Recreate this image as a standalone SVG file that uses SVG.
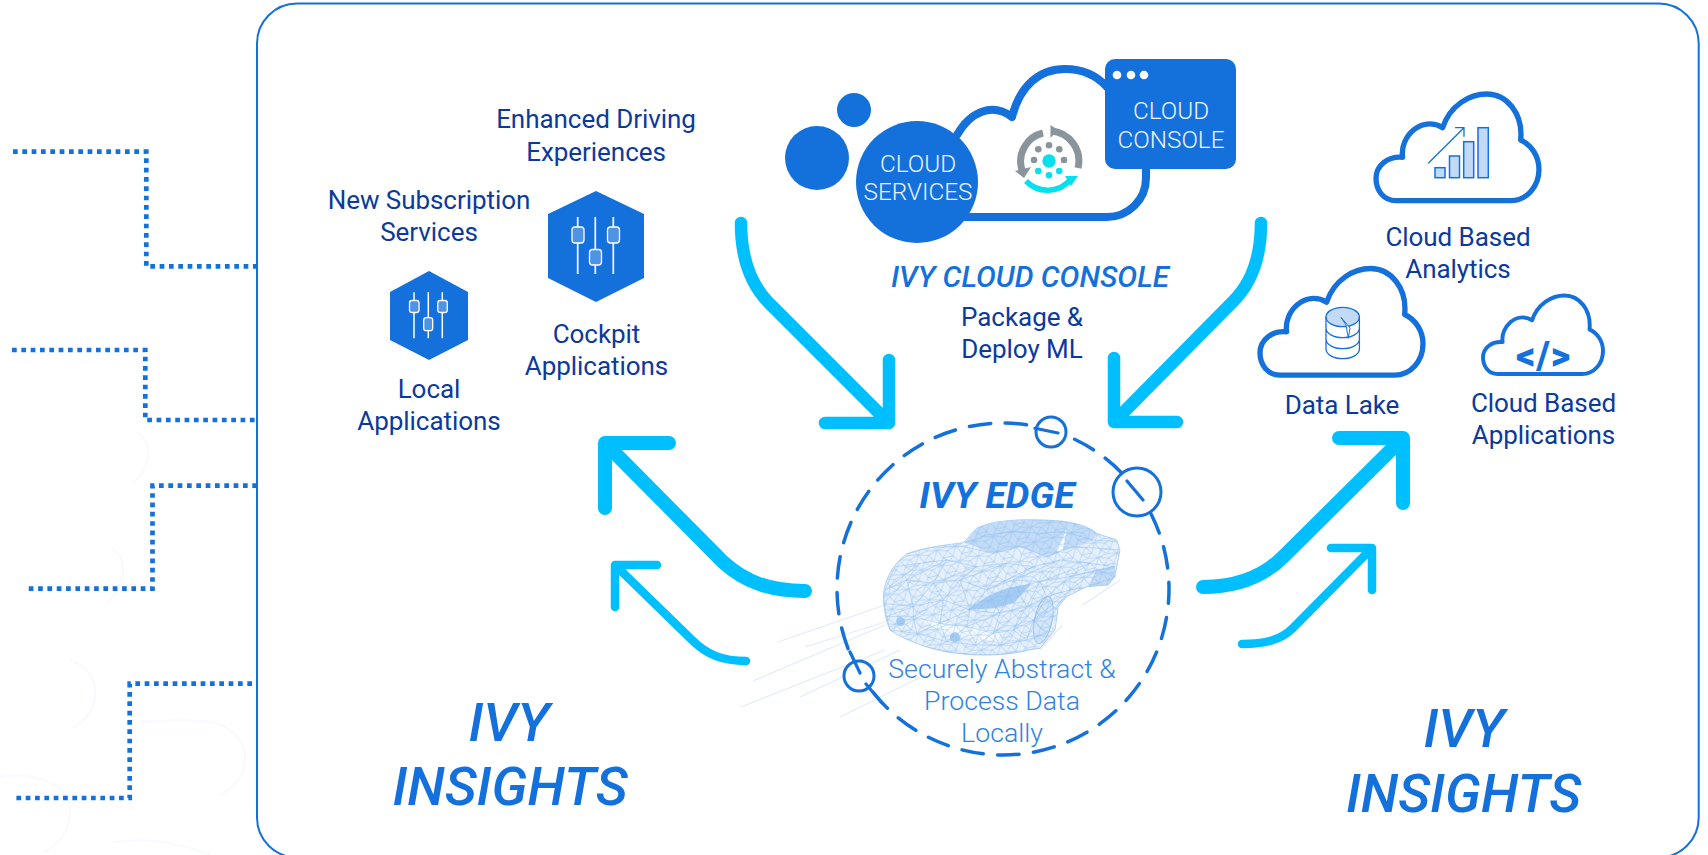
<svg xmlns="http://www.w3.org/2000/svg" width="1708" height="855" viewBox="0 0 1708 855">
<style>
text{font-family:Roboto,"Liberation Sans",sans-serif;text-anchor:middle}
.lab{font-size:26px;fill:#0b3a9c;letter-spacing:-.05px}
.ins{font-size:54.3px;font-weight:500;font-style:italic;fill:#1471db}
.svc{font-size:24.3px;font-weight:300;fill:#eaf3fd}
.dot{fill:none;stroke:#1471db;stroke-width:4.7;stroke-dasharray:4.7 4.63}
.big{fill:none;stroke:#00bfff;stroke-width:14;stroke-linecap:round;stroke-linejoin:round}
.mid{fill:none;stroke:#00bfff;stroke-width:12.5;stroke-linecap:round;stroke-linejoin:round}
.sml{fill:none;stroke:#00bfff;stroke-width:8.5;stroke-linecap:round;stroke-linejoin:round}
.cld{fill:none;stroke:#1471db;stroke-linejoin:round}
.fnt{fill:none;stroke:#f7fafe;stroke-width:2}
.spd{stroke:#e3eafa;stroke-width:1.2;fill:none}
.fad{fill:#4f93e4;stroke:#fff;stroke-width:1.3}
.bar{fill:#c3daf6;stroke:#1471db;stroke-width:1.5}
.thin{fill:none;stroke:#1471db;stroke-width:1.3}
.ring{fill:#fff;stroke:#1471db;stroke-width:3}
.tick{fill:none;stroke:#1471db;stroke-width:3.2;stroke-linecap:round}
.sec{font-size:26.7px;font-weight:300;fill:#2f83e0}
</style>
<defs>
<path id="cloud" d="M60,320C22,320 0,288 0,253C0,213 37,186 80,190C70,128 137,63 200,101C222,33 282,0 332,0C392,0 442,58 434,138C467,153 489,188 489,226C489,278 452,320 404,320Z"/>
<path id="carBody" d="M310,585C315,540 335,495 380,462C420,445 490,435 550,428L590,385C640,360 730,355 830,362C880,365 930,380 950,400L1010,420L1020,450L1005,530L985,555L920,560L860,590L835,620L825,690L780,745L745,750C700,765 600,770 530,760C470,755 380,725 330,690C318,665 310,620 310,585Z"/>
<clipPath id="carClip"><use href="#carBody"/></clipPath>
<pattern id="fineMesh" width="58" height="46" patternUnits="userSpaceOnUse" patternTransform="rotate(-14)">
<path fill="none" stroke="#8fbfef" stroke-width="1.5" d="M0,0L30,8L58,0M0,0L12,26L30,8L42,28L58,0M12,26L42,28L58,46M12,26L0,46L28,40L58,46M42,28L28,40L12,26"/>
</pattern>
</defs>
<rect width="1708" height="855" fill="#fff"/>
<g id="background-arcs">
<path class="fnt" d="M70,660Q95,670 95,692Q95,715 73,728"/>
<path class="fnt" d="M140,722Q190,718 217,723Q245,735 245,758Q245,782 220,795"/>
<path class="fnt" d="M0,777Q20,774 33,777Q70,785 70,812Q70,838 43,853"/>
<path class="fnt" d="M113,842Q145,838 167,843Q195,848 210,855"/>
<path class="fnt" d="M138,432Q148,440 148,453Q148,470 133,483"/>
<path class="fnt" d="M112,548Q123,555 123,570Q123,590 107,603"/>
</g>
<rect id="frame" x="257" y="3.5" width="1441.7" height="854" rx="40" ry="40" fill="none" stroke="#1471db" stroke-width="2"/>
<g id="connectors">
<path class="dot" d="M13,151.7H146.3V266.3H257"/>
<path class="dot" d="M12,350H145.3V420H257"/>
<path class="dot" d="M257,485.7H152.5V588.7H27"/>
<path class="dot" d="M252,683.7H129.7V798H15"/>
<path class="mid" d="M741,223C741,255 750,283 768,302L889,423M825,423H889V360"/>
<path class="mid" d="M1261,223C1261,255 1252,283 1232.5,302L1114,422H1177M1114,422V358"/>
<path class="big" d="M805,591C770,591 745,582 723,562L605,443M669,443H605V508"/>
<path class="sml" d="M746,661C723,661 707,655 692,640L615,565M657,565H615V607"/>
<path class="big" d="M1203,587C1238,587 1263,577 1283,557L1403,438M1339,438H1403V503"/>
<path class="sml" d="M1242,644C1265,644 1281,640 1293,628L1372,548M1331,548H1372V590"/>
</g>
<g id="ivy-cloud-console">
<path fill="none" stroke="#1471db" stroke-width="8" stroke-linecap="round" stroke-linejoin="round" d="M957,135C970,112 992,102 1012,117C1020,85 1040,69 1065,69C1082,69 1097,76 1107,87M1146,165V178C1146,200 1128,217 1107,217H960"/>
<circle cx="817" cy="158" r="32" fill="#1471db"/>
<circle cx="854" cy="110" r="17" fill="#1471db"/>
<circle cx="917" cy="182" r="61" fill="#1471db"/>
<text class="svc" x="918" y="172">CLOUD</text>
<text class="svc" x="918" y="200">SERVICES</text>
<rect x="1105" y="59" width="131" height="110" rx="10" fill="#1471db"/>
<circle cx="1117" cy="75" r="4.3" fill="#fff"/><circle cx="1131" cy="75" r="4.3" fill="#fff"/><circle cx="1144" cy="75" r="4.3" fill="#fff"/>
<text class="svc" x="1171" y="119">CLOUD</text>
<text class="svc" x="1171" y="148">CONSOLE</text>
<path fill="none" stroke="#8a949c" stroke-width="7" d="M1043,133A29,29 0 0 0 1022,170M1051,131A30,30 0 0 1 1078,168"/>
<path fill="#8a949c" d="M1015,171L1031,167L1024,178ZM1050.5,125V138L1058,130Z"/>
<path fill="none" stroke="#06dfee" stroke-width="5.5" d="M1026,181A30,30 0 0 0 1071,179"/>
<path fill="#06dfee" d="M1078,176L1065,176L1071,186Z"/>
<circle cx="1049" cy="161" r="6.7" fill="#06dfee"/>
<g fill="#8a949c"><circle cx="1038.3" cy="149.3" r="3.3"/><circle cx="1049" cy="145.3" r="3.3"/><circle cx="1059.3" cy="149.3" r="3.3"/><circle cx="1034" cy="160" r="3.3"/><circle cx="1064" cy="160" r="3.3"/></g>
<g fill="#06dfee"><circle cx="1038.3" cy="171" r="3.3"/><circle cx="1049" cy="175.3" r="3.3"/><circle cx="1059.3" cy="171" r="3.3"/></g>
<text x="1030" y="287" font-size="29.7" font-weight="500" font-style="italic" fill="#1471db">IVY CLOUD CONSOLE</text>
<text class="lab" x="1022" y="325.5">Package &amp;</text>
<text class="lab" x="1022" y="357.5">Deploy ML</text>
</g>
<g id="enhanced-driving">
<text class="lab" x="596" y="128">Enhanced Driving</text>
<text class="lab" x="596" y="161">Experiences</text>
<path fill="#1471db" d="M596,191L644,214V278L596,302L548,278V214Z"/>
<path fill="none" stroke="#fff" stroke-width="1.7" d="M577.7,217V274M595.3,217V274M613.3,217V274"/>
<rect class="fad" x="572" y="227" width="12" height="16" rx="3"/><rect class="fad" x="589.5" y="249.5" width="12" height="15.5" rx="3"/><rect class="fad" x="607.5" y="227" width="12" height="16" rx="3"/>
<text class="lab" x="596.5" y="343">Cockpit</text>
<text class="lab" x="596.5" y="375">Applications</text>
</g>
<g id="new-subscription">
<text class="lab" x="429" y="208.5">New Subscription</text>
<text class="lab" x="429" y="240.5">Services</text>
<path fill="#1471db" d="M429,271L468,292V340L429,360L390,340V292Z"/>
<path fill="none" stroke="#fff" stroke-width="1.5" d="M414,292.3V338.3M428.3,292.3V338.3M442.3,292.3V338.3"/>
<rect class="fad" x="409.5" y="300.5" width="9.5" height="12" rx="2.5"/><rect class="fad" x="423.7" y="317.7" width="9" height="13" rx="2.5"/><rect class="fad" x="437.8" y="300.5" width="9.5" height="12" rx="2.5"/>
<text class="lab" x="429" y="398">Local</text>
<text class="lab" x="429" y="430">Applications</text>
</g>
<g id="cloud-analytics">
<use href="#cloud" class="cld" stroke-width="16" transform="translate(1376,94) scale(.3333)"/>
<rect class="bar" x="1435" y="167.7" width="10" height="10"/><rect class="bar" x="1449.5" y="156" width="10" height="21.7"/><rect class="bar" x="1463.7" y="141.7" width="10" height="36"/><rect class="bar" x="1478" y="127.7" width="10.3" height="50"/>
<path class="thin" d="M1428.3,163.3L1464,127.7M1455,127.7H1464V136.7"/>
<text class="lab" x="1458" y="246">Cloud Based</text>
<text class="lab" x="1458" y="278">Analytics</text>
</g>
<g id="data-lake">
<use href="#cloud" class="cld" stroke-width="16" transform="translate(1260,268.5) scale(.3333)"/>
<ellipse cx="1342.7" cy="317" rx="16.7" ry="9.7" fill="#c3daf6" stroke="#1471db" stroke-width="1.3"/>
<path class="thin" d="M1326,317V349A16.7,9.7 0 0 0 1359.4,349V317M1326,328A16.7,9.7 0 0 0 1359.4,328M1326,339A16.7,9.7 0 0 0 1359.4,339"/>
<path fill="#fff" stroke="#1471db" stroke-width="1" d="M1341,317.3L1350,328L1348.3,338.3L1346,325Z"/>
<text class="lab" x="1342" y="414">Data Lake</text>
</g>
<g id="cloud-applications">
<use href="#cloud" class="cld" stroke-width="16" transform="translate(1483,295.5) scale(.2454)"/>
<text x="1543.7" y="369" font-size="38" font-weight="900" fill="#1471db" letter-spacing="1">&lt;/&gt;</text>
<text class="lab" x="1543.5" y="411.5">Cloud Based</text>
<text class="lab" x="1543.5" y="443.5">Applications</text>
</g>
<g id="ivy-edge">
<path class="spd" d="M778,642L885,605M805,647L885,622M753,681L885,625M741,707L885,650M800,697L900,650M840,717L925,675M1083,605L1120,580M1040,650L1062,625"/>
<g transform="translate(780,400) scale(.3333)">
<use href="#carBody" fill="#e6f0fc" stroke="#a8cdf2" stroke-width="2.5" stroke-linejoin="round"/>
<path fill="#c4dcf7" d="M555,428L590,385L640,365L730,358L830,362L910,375L950,400L940,420L880,440L800,470L720,440L640,460Z"/>
<path fill="#c4dcf7" d="M950,510L1005,500L1005,530L985,555L930,560Z"/>
<path fill="#a5ccf3" d="M560,630L620,590L680,565L755,550L700,610L640,625Z"/>
<path fill="#fff" d="M830,450L860,390L845,465Z"/>
<path fill="#f7fbff" d="M400,650L560,680L660,700L650,725L500,700Z"/>
<ellipse cx="790" cy="660" rx="26" ry="72" transform="rotate(12 790 660)" fill="#d4e6f9" stroke="#9cc6f0" stroke-width="3"/>
<circle cx="362" cy="665" r="13" fill="#a5ccf3"/><circle cx="525" cy="712" r="15" fill="#a5ccf3"/>
<rect x="280" y="340" width="760" height="440" fill="url(#fineMesh)" clip-path="url(#carClip)"/>
<path fill="none" stroke="#8dbcee" stroke-width="1.8" stroke-opacity=".75" stroke-linejoin="round" clip-path="url(#carClip)" d="M590,385L640,365L730,358L830,362L910,375L950,400M555,428L620,405L700,395L780,400L850,395L940,420L1010,425M380,462L450,442L550,440L640,460L720,440L800,470L880,440L960,445L1018,450M345,500L420,490L500,480L590,500L680,490L760,500L840,480L930,490L1005,500M315,570L380,540L460,550L540,540L620,570L700,540L780,545L870,530L950,510L1005,530M312,610L400,620L490,600L570,630L660,640L740,620L800,590L870,570L930,560L985,555M320,650L400,650L480,670L560,680L640,700L700,690L760,660L830,620M330,690L410,700L500,725L590,735L660,735L740,720L800,700M410,735L530,760L640,765L745,750L780,745M345,500L315,570L420,490L380,540L500,480L460,550L590,500L540,540L680,490L620,570L760,500L700,540L840,480L780,545L930,490L870,530L1005,500L950,510M315,570L312,610L380,540L400,620L460,550L490,600L540,540L570,630L620,570L660,640L700,540L740,620L780,545L800,590L870,530L870,570L950,510L930,560L1005,530L985,555M312,610L320,650L400,620L400,650L490,600L480,670L570,630L560,680L660,640L640,700L740,620L700,690L800,590L760,660L870,570L830,620M320,650L330,690L400,650L410,700L480,670L500,725L560,680L590,735L640,700L660,735L700,690L740,720L760,660L800,700"/>
</g>
<circle cx="1003" cy="589" r="166" fill="none" stroke="#1471db" stroke-width="3.5" stroke-dasharray="21.5 14.47" stroke-dashoffset="7.25" stroke-linecap="round"/>
<circle class="ring" cx="1051" cy="432" r="15"/>
<circle class="ring" cx="1137" cy="492" r="24"/>
<circle class="ring" cx="859" cy="676" r="15"/>
<path class="tick" d="M1035,428.3L1058,433M1127,481L1143,500M850,652L860,673M866,684L882,703"/>
<text x="997" y="508" font-size="37.5" font-weight="700" font-style="italic" fill="#1471db">IVY EDGE</text>
<text class="sec" x="1002" y="678">Securely Abstract &amp;</text>
<text class="sec" x="1002" y="710">Process Data</text>
<text class="sec" x="1002" y="742">Locally</text>
</g>
<g id="ivy-insights-left">
<text class="ins" x="509" y="741">IVY</text>
<text class="ins" x="510" y="805">INSIGHTS</text>
</g>
<g id="ivy-insights-right">
<text class="ins" x="1464" y="747">IVY</text>
<text class="ins" x="1463.5" y="812">INSIGHTS</text>
</g>
</svg>
